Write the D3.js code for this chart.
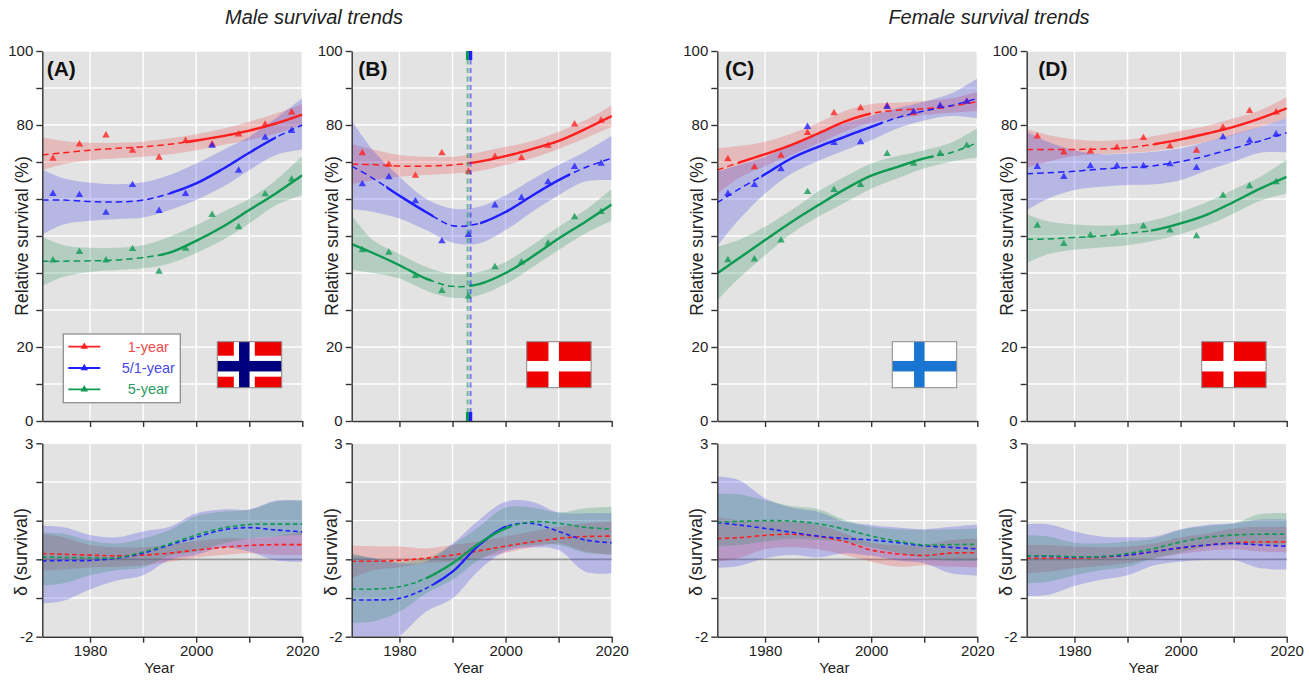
<!DOCTYPE html>
<html><head>
<meta charset="utf-8">
<title>Survival trends</title>
<script src="https://d3js.org/d3.v7.min.js"></script>
<style>
  html, body { margin: 0; background: #fff; }
  svg { display: block; }
  text { font-family: "Liberation Sans", Arial, sans-serif; fill: #222; }
  .plotbg { fill: #e3e3e3; }
  .grid line { stroke: #fff; stroke-width: 1.4; }
  .axis path, .axis line { stroke: #333; stroke-width: 1.4; fill: none; }
  .axis text { font-size: 15px; fill: #222; }
</style>
</head>
<body>
<svg id="chart" width="1309" height="680"></svg>
<script>
// years shared by every fitted curve and band
const knotYears = [1971, 1975, 1980, 1985, 1990, 1995, 2000, 2005, 2010, 2015, 2020];
const pointYears = [1973, 1978, 1983, 1988, 1993, 1998, 2003, 2008, 2013, 2018];

const panelNames = ["(A)", "(B)", "(C)", "(D)"];
const seriesNames = ["1-year", "5/1-year", "5-year"];
const topTicks = [0, 10, 20, 30, 40, 50, 60, 70, 80, 90, 100];
const topLabels = [0, 20, 80, 100];
const bottomTicks = [-2, -1, 0, 1, 2, 3];
const bottomLabels = [-2, 3];
const yearTicks = [1980, 1990, 2000, 2010, 2020];
const yearLabels = [1980, 2000, 2020];

// (A) Male, Norway
const aRedPts = [70.9, 74.8, 77.2, 73.1, 71.2, 75.7, 74.8, 77.5, 80.1, 83.4];
const aBluePts = [61.4, 61.1, 56.3, 63.8, 56.8, 61.4, 74.4, 67.7, 76.6, 78.4];
const aGreenPts = [43.4, 45.7, 43.4, 46.5, 40.4, 46.6, 55.7, 52.4, 61.3, 65.3];
const aRed = [71.9, 72.5, 73.2, 73.7, 74.1, 74.8, 75.8, 77, 78.5, 80.4, 82.8];
const aRedHi = [76.6, 75.7, 75.2, 75.2, 75.5, 76.4, 77.5, 79, 80.9, 83.1, 85.7];
const aRedLo = [67.8, 69.4, 70.5, 71, 71.4, 72.1, 73.2, 74.6, 75.9, 77.7, 80];
const aBlue = [59.7, 59.7, 59.3, 59.2, 59.7, 61.5, 64.2, 68.1, 72.5, 76.6, 80];
const aBlueHi = [68, 65.6, 64.4, 64, 64.5, 66.5, 69.6, 73.2, 76.8, 81.8, 87.2];
const aBlueLo = [50.4, 53.1, 54.1, 54.6, 55, 57, 59.7, 63.3, 67.8, 71.9, 73.4];
const aGreen = [43.2, 43.2, 43.3, 43.5, 44.2, 45.5, 48.7, 52.5, 57, 61.5, 66.4];
const aGreenHi = [49.8, 47.5, 46.8, 46.8, 47.5, 49.8, 52.9, 56.5, 60.1, 65.1, 71.6];
const aGreenLo = [36.5, 39, 40.3, 40.8, 41.3, 42.6, 45.4, 48.9, 53.4, 58.3, 61.1];

// (B) Male, Denmark
const bRedPts = [72.4, 69.3, 66.3, 72.4, 67.4, 71.4, 71.1, 74.4, 80.2, 81.2];
const bBluePts = [64, 65.9, 59.4, 48.6, 50.3, 58.3, 60.3, 64.6, 68.7, 69.6];
const bGreenPts = [46.2, 45.5, 39.2, 35.2, 33.7, 41.6, 42.9, 48, 55.1, 56.5];
const bRed = [69.4, 69.3, 68.9, 68.9, 69.2, 70.1, 71.6, 73.5, 75.7, 78.9, 82.4];
const bRedHi = [74.8, 73.4, 71.9, 71.4, 71.4, 72.6, 74.1, 75.7, 78.2, 81.3, 85.3];
const bRedLo = [64, 65.1, 66, 66.5, 66.9, 67.6, 69.2, 71, 73.5, 76.4, 79.5];
const bBlue = [68.9, 65.6, 60.9, 56.5, 52.8, 53.4, 56.5, 60.9, 65.1, 68.5, 71];
const bBlueHi = [81.3, 73.2, 66, 60.1, 57.4, 57.9, 61, 65.3, 69.2, 72.8, 77.1];
const bBlueLo = [57.2, 56.5, 54.7, 51.6, 48.2, 48, 51.6, 56.5, 61, 64.7, 65.1];
const bGreen = [47.8, 45.4, 42.1, 38.5, 36.4, 37, 40, 44.4, 49.3, 53.8, 58.5];
const bGreenHi = [55.6, 48.9, 45.1, 41.7, 39.7, 40.3, 43, 47.5, 52.5, 57, 62.8];
const bGreenLo = [40.8, 40, 38.5, 35.3, 33.3, 34, 37, 41.5, 46.2, 50.7, 54.1];

// (C) Female, Finland
const cRedPts = [70.8, 68.6, 71.7, 77.9, 83.2, 84.6, 85.1, 83.2, 84.9, 86.3];
const cBluePts = [61.4, 63.8, 68.1, 79.5, 75.2, 75.4, 84.9, 83.6, 85.2, 86.3];
const cGreenPts = [43.5, 43.7, 48.8, 61.9, 62.5, 63.8, 72.2, 69.6, 72.3, 74.4];
const cRed = [67.8, 69.8, 72.1, 74.6, 77.7, 80.9, 83.1, 84, 84.4, 85.1, 86.3];
const cRedHi = [73.7, 74.3, 75.5, 77.7, 80.6, 83.8, 85.7, 86, 86.5, 87.2, 89];
const cRedLo = [61.3, 65.6, 68.9, 71.9, 75, 78.2, 80.6, 81.8, 82.7, 83.3, 83.8];
const cBlue = [59, 62.6, 66.7, 71, 74.1, 76.8, 79.5, 82, 83.8, 85.2, 87.2];
const cBlueHi = [67.4, 69.2, 71.4, 74.6, 77.7, 80.4, 82.5, 84.6, 86.3, 88.5, 92.6];
const cBlueLo = [47.3, 54.3, 61.5, 66.9, 70.3, 73.2, 75.9, 79.1, 81.2, 82.4, 81.8];
const cGreen = [39.9, 43.9, 48.9, 53.8, 58.3, 62.6, 66.3, 68.7, 71, 72.5, 75.2];
const cGreenHi = [47.1, 48.9, 52.5, 57, 62, 66, 69.6, 71.6, 73.2, 75.2, 79.1];
const cGreenLo = [32.6, 38.5, 44.8, 50.7, 55.2, 59, 62.8, 65.6, 68.3, 70.1, 71.2];

// (D) Female, Denmark
const dRedPts = [76.9, 72.6, 72.9, 73.9, 76.5, 74.2, 73.1, 79.3, 83.8, 83.4];
const dBluePts = [68.7, 66, 68.9, 68.9, 68.9, 69.4, 68.4, 76.7, 75.8, 77.5];
const dGreenPts = [52.8, 47.9, 50.2, 50.9, 52.6, 51.5, 50, 60.9, 63.5, 64.6];
const dRed = [73.4, 73.4, 73.4, 73.5, 73.9, 74.8, 76.1, 77.7, 79.5, 81.8, 84.5];
const dRedHi = [78.9, 77.3, 76.1, 75.7, 76.1, 77, 78.4, 79.8, 81.8, 84, 87.6];
const dRedLo = [68.5, 70.1, 71.6, 72.1, 72.5, 73, 74.1, 75.5, 77.3, 79.5, 81.8];
const dBlue = [66.8, 67.1, 67.5, 68.1, 68.5, 69, 70.1, 71.7, 73.7, 75.7, 77.9];
const dBlueHi = [78.2, 75.5, 73.2, 72.1, 72.3, 72.8, 73.7, 75.5, 77.5, 79.5, 81.8];
const dBlueLo = [57, 60.1, 62.4, 63.3, 63.8, 64, 65.1, 67.8, 70.1, 72.5, 72.5];
const dGreen = [49.1, 49.2, 49.6, 50, 50.7, 51.6, 53.4, 55.8, 59.2, 62.8, 66];
const dGreenHi = [55.9, 54, 53.1, 52.8, 53.1, 54.3, 56.5, 59.2, 62.6, 66, 70.7];
const dGreenLo = [42.7, 45.1, 46.3, 46.9, 47.5, 48.7, 50.5, 52.9, 56.1, 59.5, 61.5];

// delta panels
const aRedD = [.15, .13, .11, .09, .11, .16, .24, .31, .36, .38, .38];
const aRedDHi = [.66, .57, .37, .31, .31, .37, .48, .54, .54, .6, .72];
const aRedDLo = [-.28, -.26, -.21, -.19, -.15, -.06, .05, .11, .16, .11, .11];
const aBlueD = [-.04, -.03, -.03, .03, .16, .37, .57, .76, .82, .76, .71];
const aBlueDHi = [.87, .83, .63, .57, .72, .84, 1.19, 1.29, 1.29, 1.52, 1.52];
const aBlueDLo = [-1.14, -1.07, -.78, -.55, -.41, -.02, .11, .31, .2, -.03, -.06];
const aGreenD = [.06, .05, .04, .04, .19, .4, .63, .81, .9, .91, .91];
const aGreenDHi = [.69, .66, .48, .41, .54, .76, 1.12, 1.23, 1.28, 1.49, 1.52];
const aGreenDLo = [-.68, -.62, -.41, -.28, -.21, .09, .2, .41, .54, .6, .63];

const bRedD = [-.05, -.05, -.03, .03, .11, .22, .34, .45, .54, .59, .6];
const bRedDHi = [.36, .34, .33, .28, .37, .46, .59, .72, .84, .93, .97];
const bRedDLo = [-.49, -.28, -.21, -.09, -.06, .03, .17, .31, .41, .2, .11];
const bBlueD = [-1.05, -1.05, -1.01, -.75, -.32, .37, .84, .93, .72, .5, .43];
const bBlueDHi = [.11, .03, -.1, -.06, .41, 1.02, 1.49, 1.49, 1.21, 1.19, 1.19];
const bBlueDLo = [-2.6, -2.3, -1.98, -1.35, -1.01, -.28, .2, .31, .24, -.32, -.36];
const bGreenD = [-.77, -.77, -.71, -.49, -.1, .41, .8, .97, .93, .83, .78];
const bGreenDHi = [.16, .03, -.06, .03, .37, .84, 1.34, 1.34, 1.21, 1.32, 1.36];
const bGreenDLo = [-1.64, -1.61, -1.35, -.88, -.53, -.02, .28, .37, .37, .17, .13];

const cRedD = [.54, .56, .62, .65, .59, .46, .24, .14, .1, .16, .17];
const cRedDHi = [1.09, 1.02, 1, .97, .89, .67, .43, .37, .37, .5, .54];
const cRedDLo = [-.06, .03, .26, .31, .26, .11, -.06, -.19, -.15, -.19, -.21];
const cBlueD = [.95, .89, .8, .7, .6, .54, .5, .43, .35, .31, .27];
const cBlueDHi = [2.14, 2.05, 1.58, 1.34, 1.23, .97, .89, .82, .78, .84, .9];
const cBlueDLo = [-.22, -.17, .03, .11, .05, .16, .09, -.03, -.1, -.36, -.42];
const cGreenD = [.96, .98, 1, .99, .92, .78, .6, .47, .37, .38, .39];
const cGreenDHi = [1.69, 1.68, 1.53, 1.38, 1.3, 1.02, .84, .78, .76, .78, .8];
const cGreenDLo = [.34, .37, .46, .54, .5, .46, .31, .17, .03, -.04, -.04];

const dRedD = [.03, .03, .03, .05, .11, .2, .29, .37, .43, .45, .45];
const dRedDHi = [.37, .37, .33, .31, .33, .41, .57, .67, .8, .84, .84];
const dRedDLo = [-.36, -.32, -.23, -.17, -.1, .03, .14, .22, .26, .2, .17];
const dBlueD = [.09, .08, .06, .07, .11, .2, .3, .37, .41, .37, .34];
const dBlueDHi = [.91, .91, .72, .59, .57, .59, .78, .89, .93, 1.03, 1.03];
const dBlueDLo = [-.95, -.92, -.69, -.53, -.41, -.15, -.06, -.02, -.02, -.23, -.26];
const dGreenD = [.09, .09, .07, .07, .15, .28, .45, .57, .63, .65, .65];
const dGreenDHi = [.63, .59, .43, .41, .46, .54, .76, .86, .93, 1.17, 1.19];
const dGreenDLo = [-.62, -.58, -.41, -.28, -.19, .03, .18, .33, .37, .37, .37];

// year spans where each curve is drawn solid, per panel: red, blue, green
const aSolid = [[[1998, 2020]], [[1995, 2015]], [[1993, 2020]]];
const bSolid = [[[1993.5, 2020]], [[1977.5, 1986.4], [1995.2, 2012.1]], [[1971, 1986], [1993.3, 2020]]];
const cSolid = [[[1975, 1999.8]], [[1979.3, 2002.1]], [[1971, 2011.7]]];
const dSolid = [[[1995, 2020]], [], [[1994.4, 2020]]];
const bDeltaSolid = [[], [[1986.6, 2000.2]], [[1985, 2001]]];
const noSolid = [[], [], []];

// joinpoint years in panel (B)
const bJoinBlue = 1993.4;
const bJoinGreen = 1992.85;

const lineColor = ["#ff1f1f", "#1f1fff", "#0e9a52"];
const bandColor = ["#e8403f", "#4444e8", "#1c8f52"];
const bandAlpha = [0.25, 0.27, 0.24];
const labelColor = ["#f04b4b", "#4a4ae6", "#2a9d62"];

const panelLeft = [42.3, 351.7, 717.3, 1026.7];
const panelW = 260;
const topY = [51, 421];
const botY = [443.3, 636.7];

const svg = d3.select("#chart");
const line = (x, y) => d3.line().x((d, i) => x(knotYears[i])).y(d => y(d)).curve(d3.curveCatmullRom.alpha(0.5));
const area = (x, y, lo) => d3.area().x((d, i) => x(knotYears[i])).y0((d, i) => y(lo[i])).y1(d => y(d)).curve(d3.curveCatmullRom.alpha(0.5));
let clipId = 0;

function drawFrame(g, x, y, yTicks) {
  g.append("rect").attr("class", "plotbg")
    .attr("x", x.range()[0]).attr("width", panelW)
    .attr("y", y.range()[1]).attr("height", y.range()[0] - y.range()[1]);
  const grid = g.append("g").attr("class", "grid");
  grid.selectAll(".v").data(yearTicks).join("line").attr("class", "v")
    .attr("x1", x).attr("x2", x).attr("y1", y.range()[0]).attr("y2", y.range()[1]);
  grid.selectAll(".h").data(yTicks).join("line").attr("class", "h")
    .attr("x1", x.range()[0]).attr("x2", x.range()[1]).attr("y1", y).attr("y2", y);
}

function drawAxes(g, x, y, yTicks, yLabels, showYears) {
  g.append("g").attr("class", "axis")
    .attr("transform", "translate(0," + y.range()[0] + ")")
    .call(d3.axisBottom(x).tickValues(yearTicks).tickSize(6).tickSizeOuter(0)
      .tickFormat(d => showYears && yearLabels.includes(d) ? d : ""));
  g.append("g").attr("class", "axis")
    .attr("transform", "translate(" + x.range()[0] + ",0)")
    .call(d3.axisLeft(y).tickValues(yTicks).tickSize(6).tickSizeOuter(0)
      .tickFormat(d => yLabels.includes(d) ? d : ""));
}

function drawSeries(g, x, y, curves, solid, dash, widths) {
  const id = "clip" + (clipId++);
  g.append("clipPath").attr("id", id).append("rect")
    .attr("x", x.range()[0]).attr("width", panelW)
    .attr("y", y.range()[1]).attr("height", y.range()[0] - y.range()[1]);
  const plot = g.append("g").attr("clip-path", "url(#" + id + ")");
  curves.forEach((c, i) => {
    plot.append("path").attr("d", area(x, y, c.lo)(c.hi))
      .attr("fill", bandColor[i]).attr("fill-opacity", bandAlpha[i]);
  });
  curves.forEach((c, i) => {
    plot.append("path").attr("d", line(x, y)(c.mid)).attr("fill", "none")
      .attr("stroke", lineColor[i]).attr("stroke-width", widths[0]).attr("stroke-dasharray", dash);
    solid[i].forEach(span => {
      const sid = "clip" + (clipId++);
      g.append("clipPath").attr("id", sid).append("rect")
        .attr("x", x(span[0])).attr("width", x(span[1]) - x(span[0]))
        .attr("y", y.range()[1]).attr("height", y.range()[0] - y.range()[1]);
      g.append("path").attr("d", line(x, y)(c.mid)).attr("fill", "none")
        .attr("clip-path", "url(#" + sid + ")")
        .attr("stroke", lineColor[i]).attr("stroke-width", widths[1]);
    });
  });
}

function drawPoints(g, x, y, pts) {
  const tri = d3.symbol().type(d3.symbolTriangle).size(24);
  pts.forEach((p, i) => {
    g.append("g").selectAll("path").data(p).join("path")
      .attr("d", tri)
      .attr("transform", (d, k) => "translate(" + x(pointYears[k]) + "," + y(d) + ")")
      .attr("fill", lineColor[i]).attr("fill-opacity", 0.78);
  });
}

function drawFlag(g, left, field, crossOuter, crossInner) {
  const fx = left + 175, fy = 341.7, fw = 64.4, fh = 46;
  const cx = fx + 27, cy = fy + 24.5;
  g.append("rect").attr("x", fx).attr("y", fy).attr("width", fw).attr("height", fh).attr("fill", field);
  const bar = (w, c) => {
    g.append("rect").attr("x", cx - w / 2).attr("y", fy).attr("width", w).attr("height", fh).attr("fill", c);
    g.append("rect").attr("x", fx).attr("y", cy - w / 2).attr("width", fw).attr("height", w).attr("fill", c);
  };
  bar(crossOuter[0], crossOuter[1]);
  if (crossInner) bar(crossInner[0], crossInner[1]);
  g.append("rect").attr("x", fx).attr("y", fy).attr("width", fw).attr("height", fh)
    .attr("fill", "none").attr("stroke", "#8a8a8a").attr("stroke-width", 1);
}

function drawPanel(k, pts, curves, solid, deltas, dSolidSpans, labelOffset) {
  const left = panelLeft[k];
  const g = svg.append("g");
  const x = d3.scaleLinear().domain([1971, 2020]).range([left, left + panelW]);
  const yT = d3.scaleLinear().domain([0, 100]).range([topY[1], topY[0]]);
  const yB = d3.scaleLinear().domain([-2, 3]).range([botY[1], botY[0]]);

  drawFrame(g, x, yT, topTicks);
  drawFrame(g, x, yB, bottomTicks);

  drawSeries(g, x, yT, curves, solid, "6.5,4", [1.5, 2.4]);
  drawPoints(g, x, yT, pts);
  g.append("line").attr("x1", left).attr("x2", left + panelW).attr("y1", yB(0)).attr("y2", yB(0))
    .attr("stroke", "#9a9a9a").attr("stroke-width", 1.6);
  drawSeries(g, x, yB, deltas, dSolidSpans, "4.5,3", [1.6, 2.2]);

  drawAxes(g, x, yT, topTicks, topLabels, false);
  drawAxes(g, x, yB, bottomTicks, bottomLabels, true);

  g.append("text").attr("x", left + labelOffset).attr("y", 76)
    .attr("font-size", 21).attr("font-weight", "bold").style("fill", "#111").text(panelNames[k]);
  g.append("text").attr("transform", "translate(" + (left - 14) + ",236) rotate(-90)")
    .attr("text-anchor", "middle").attr("font-size", 17.5).text("Relative survival (%)");
  g.append("text").attr("transform", "translate(" + (left - 15) + ",552) rotate(-90)")
    .attr("text-anchor", "middle").attr("font-size", 18).text("δ (survival)");
  g.append("text").attr("x", left + 117).attr("y", 673)
    .attr("text-anchor", "middle").attr("font-size", 15).text("Year");
  return { g, x, yT };
}

const panelA = drawPanel(0, [aRedPts, aBluePts, aGreenPts],
  [{ mid: aRed, hi: aRedHi, lo: aRedLo }, { mid: aBlue, hi: aBlueHi, lo: aBlueLo }, { mid: aGreen, hi: aGreenHi, lo: aGreenLo }],
  aSolid,
  [{ mid: aRedD, hi: aRedDHi, lo: aRedDLo }, { mid: aBlueD, hi: aBlueDHi, lo: aBlueDLo }, { mid: aGreenD, hi: aGreenDHi, lo: aGreenDLo }],
  noSolid, 4.4);
const panelB = drawPanel(1, [bRedPts, bBluePts, bGreenPts],
  [{ mid: bRed, hi: bRedHi, lo: bRedLo }, { mid: bBlue, hi: bBlueHi, lo: bBlueLo }, { mid: bGreen, hi: bGreenHi, lo: bGreenLo }],
  bSolid,
  [{ mid: bRedD, hi: bRedDHi, lo: bRedDLo }, { mid: bBlueD, hi: bBlueDHi, lo: bBlueDLo }, { mid: bGreenD, hi: bGreenDHi, lo: bGreenDLo }],
  bDeltaSolid, 6.6);
const panelC = drawPanel(2, [cRedPts, cBluePts, cGreenPts],
  [{ mid: cRed, hi: cRedHi, lo: cRedLo }, { mid: cBlue, hi: cBlueHi, lo: cBlueLo }, { mid: cGreen, hi: cGreenHi, lo: cGreenLo }],
  cSolid,
  [{ mid: cRedD, hi: cRedDHi, lo: cRedDLo }, { mid: cBlueD, hi: cBlueDHi, lo: cBlueDLo }, { mid: cGreenD, hi: cGreenDHi, lo: cGreenDLo }],
  noSolid, 7.7);
const panelD = drawPanel(3, [dRedPts, dBluePts, dGreenPts],
  [{ mid: dRed, hi: dRedHi, lo: dRedLo }, { mid: dBlue, hi: dBlueHi, lo: dBlueLo }, { mid: dGreen, hi: dGreenHi, lo: dGreenLo }],
  dSolid,
  [{ mid: dRedD, hi: dRedDHi, lo: dRedDLo }, { mid: dBlueD, hi: dBlueDHi, lo: dBlueDLo }, { mid: dGreenD, hi: dGreenDHi, lo: dGreenDLo }],
  noSolid, 11.6);

// flags
drawFlag(svg, panelLeft[0], "#ee0000", [21, "#fff"], [10.5, "#00007f"]);
drawFlag(svg, panelLeft[1], "#ee0000", [10.5, "#fff"]);
drawFlag(svg, panelLeft[2], "#fff", [10.5, "#1a75d2"]);
drawFlag(svg, panelLeft[3], "#ee0000", [10.5, "#fff"]);

// joinpoint markers in panel (B)
[[bJoinGreen, lineColor[2]], [bJoinBlue, lineColor[1]]].forEach(j => {
  const px = panelB.x(j[0]);
  svg.append("line").attr("x1", px).attr("x2", px).attr("y1", topY[0]).attr("y2", topY[1])
    .attr("stroke", j[1]).attr("stroke-width", 2).attr("stroke-opacity", 0.55).attr("stroke-dasharray", "5,3.5");
  [topY[0], topY[1] - 9].forEach(y0 => {
    svg.append("rect").attr("x", px - 1.7).attr("width", 3.4).attr("y", y0).attr("height", 9).attr("fill", j[1]);
  });
});

// legend
const lx = panelLeft[0];
svg.append("rect").attr("x", lx + 21).attr("y", 334).attr("width", 117).attr("height", 68.7)
  .attr("fill", "#fff").attr("stroke", "#8f8f8f").attr("stroke-width", 1.3);
seriesNames.forEach((name, i) => {
  const ly = 346.7 + i * 21.3;
  svg.append("line").attr("x1", lx + 26).attr("x2", lx + 58).attr("y1", ly).attr("y2", ly)
    .attr("stroke", lineColor[i]).attr("stroke-width", 1.8);
  svg.append("path").attr("d", d3.symbol().type(d3.symbolTriangle).size(24))
    .attr("transform", "translate(" + (lx + 42) + "," + ly + ")").attr("fill", lineColor[i]);
  svg.append("text").attr("x", lx + 106).attr("y", ly + 5).attr("text-anchor", "middle")
    .attr("font-size", 14.5).style("fill", labelColor[i]).text(name);
});

// titles
svg.append("text").attr("x", 314).attr("y", 24).attr("text-anchor", "middle")
  .attr("font-size", 20).attr("font-style", "italic").text("Male survival trends");
svg.append("text").attr("x", 989).attr("y", 24).attr("text-anchor", "middle")
  .attr("font-size", 20).attr("font-style", "italic").text("Female survival trends");
</script>
</body></html>
